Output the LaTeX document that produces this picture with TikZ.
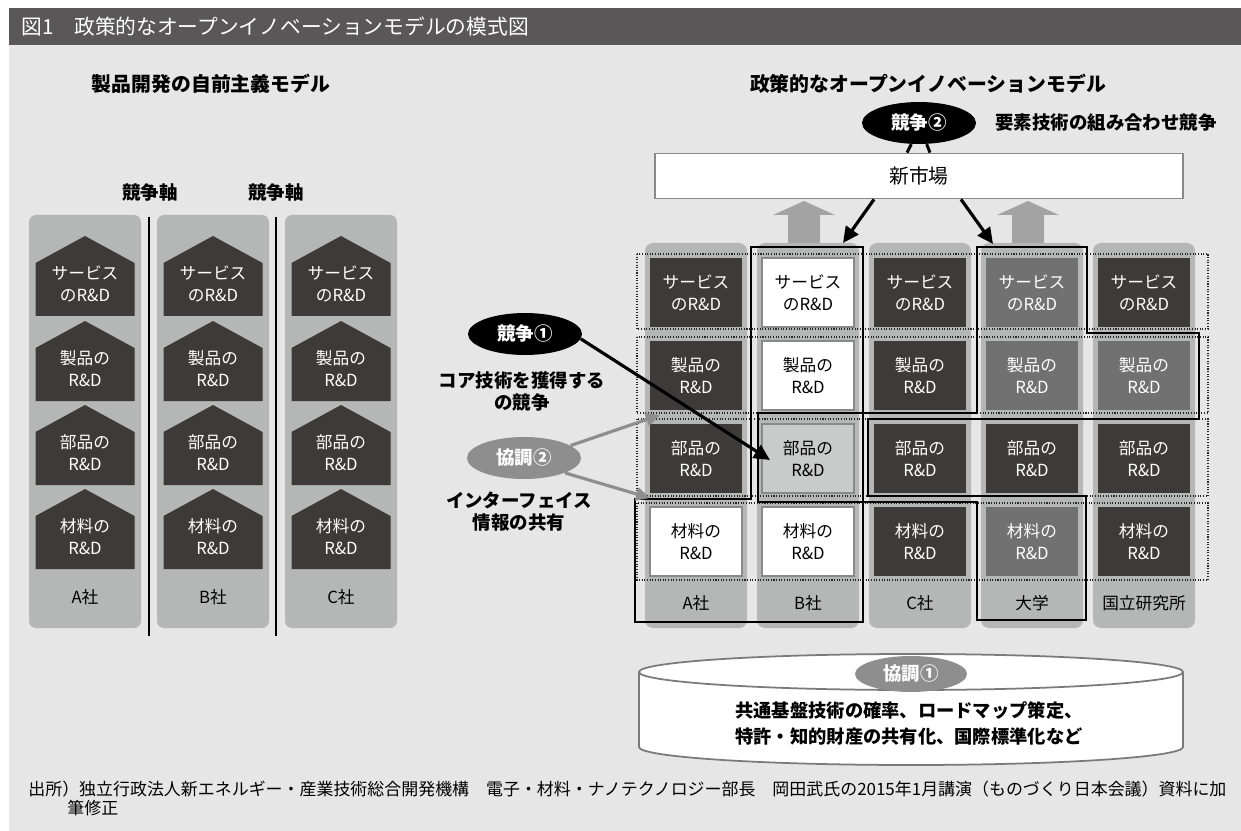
\documentclass[tikz,border=0pt]{standalone}
\usepackage{fontspec}
\setmainfont{Noto Sans CJK JP}
\usetikzlibrary{arrows.meta,shapes.geometric}

\definecolor{bggray}{HTML}{E6E6E6}
\definecolor{headgray}{HTML}{595757}
\definecolor{colgray}{HTML}{B5B6B6}
\definecolor{darkbox}{HTML}{3E3A39}
\definecolor{midbox}{HTML}{727171}
\definecolor{lightbox}{HTML}{C9CACA}
\definecolor{edgegray}{HTML}{898989}
\definecolor{coopgray}{HTML}{8E8E8E}
\definecolor{upgray}{HTML}{A3A3A3}
\definecolor{cylgray}{HTML}{7A7A7A}

\newcommand{\boxfont}{\fontsize{9.5pt}{12.5pt}\selectfont}
\newcommand{\labfont}{\fontsize{10.5pt}{13pt}\selectfont}
\newcommand{\ttlfont}{\fontsize{11.3pt}{14pt}\selectfont}
\newcommand{\headfont}{\fontsize{11.8pt}{14pt}\selectfont}
\newcommand{\basefont}{\fontsize{10.4pt}{15.3pt}\selectfont}
\newcommand{\srcfont}{\fontsize{9.65pt}{11pt}\selectfont}

\begin{document}
\begin{tikzpicture}[x=0.02cm, y=-0.02cm,
  every node/.style={inner sep=0pt, align=center},
  house/.pic={\fill[darkbox] (-49.5,27) -- (0,0) -- (49.5,27) -- (49.5,80) -- (-49.5,80) -- cycle;},
  htext/.style={text=white, font=\boxfont},
  rbox/.style={minimum width=1.84cm, minimum height=1.38cm, font=\boxfont},
  dbox/.style={rbox, fill=darkbox, text=white},
  mbox/.style={rbox, fill=midbox, text=white},
  wbox/.style={rbox, fill=white, draw=edgegray, line width=1.2pt},
  lbox/.style={rbox, fill=lightbox, draw=edgegray, line width=1.2pt},
  lab/.style={font=\labfont},
  oval/.style={ellipse, minimum width=2.28cm, minimum height=0.84cm, text=white, font=\labfont\bfseries},
  rowband/.style={dash pattern=on 0.6pt off 0.9pt, line width=0.6pt, black!85},
  outline/.style={line width=1.65pt, black},
  blackarrow/.style={-{Triangle[length=0.32cm,width=0.3cm]}, line width=1.8pt},
  grayarrow/.style={-{Triangle[length=0.28cm,width=0.26cm]}, line width=1.8pt, coopgray}]
\useasboundingbox (0,0) rectangle (1241,831);
% background and heading
\fill[white] (0,0) rectangle (1241,831);
\fill[bggray] (9,8) rectangle (1241,831);
\fill[headgray] (9,8) rectangle (1241,45);
\node[anchor=west, text=white, font=\headfont] (fig) at (21,27) {図1　政策的なオープンイノベーションモデルの模式図};

% left model
\node[font=\ttlfont\bfseries] (ltitle) at (211,84) {製品開発の自前主義モデル};
\node[lab, font=\labfont\bfseries] (axis1) at (150,193) {競争軸};
\node[lab, font=\labfont\bfseries] (axis2) at (276,193) {競争軸};

\fill[colgray, rounded corners=0.14cm] (29,215) rectangle (141,628);
\fill[colgray, rounded corners=0.14cm] (157,215) rectangle (269,628);
\fill[colgray, rounded corners=0.14cm] (285,215) rectangle (397,628);
\draw[line width=1.3pt] (149,217) -- (149,636);
\draw[line width=1.3pt] (276,217) -- (276,636);

\pic at (85,236) {house};  \node[htext] (ha1) at (85,284) {サービス\\のR\&D};
\pic at (85,321) {house};  \node[htext] (ha2) at (85,369) {製品の\\R\&D};
\pic at (85,405) {house};  \node[htext] (ha3) at (85,453) {部品の\\R\&D};
\pic at (85,489) {house};  \node[htext] (ha4) at (85,537) {材料の\\R\&D};
\pic at (213,236) {house}; \node[htext] (hb1) at (213,284) {サービス\\のR\&D};
\pic at (213,321) {house}; \node[htext] (hb2) at (213,369) {製品の\\R\&D};
\pic at (213,405) {house}; \node[htext] (hb3) at (213,453) {部品の\\R\&D};
\pic at (213,489) {house}; \node[htext] (hb4) at (213,537) {材料の\\R\&D};
\pic at (341,236) {house}; \node[htext] (hc1) at (341,284) {サービス\\のR\&D};
\pic at (341,321) {house}; \node[htext] (hc2) at (341,369) {製品の\\R\&D};
\pic at (341,405) {house}; \node[htext] (hc3) at (341,453) {部品の\\R\&D};
\pic at (341,489) {house}; \node[htext] (hc4) at (341,537) {材料の\\R\&D};
\node[font=\boxfont] (la) at (85,597) {A社};
\node[font=\boxfont] (lb) at (213,597) {B社};
\node[font=\boxfont] (lc) at (341,597) {C社};

% right model
\node[font=\ttlfont\bfseries] (rtitle) at (928,84) {政策的なオープンイノベーションモデル};
\node[oval, fill=black] (comp2) at (919,123) {競争②};
\node[anchor=west, font=\labfont\bfseries] (combo) at (995,123) {要素技術の組み合わせ競争};
\node[draw=edgegray, fill=white, line width=1pt, minimum width=10.56cm, minimum height=0.9cm, font=\ttlfont] (market) at (919,176) {新市場};
\draw[line width=1.7pt] ([xshift=-0.24cm]market.north) -- (comp2.250);
\draw[line width=1.7pt] ([xshift=0.22cm]market.north) -- (comp2.290);

\fill[upgray] (788,245) -- (788,215) -- (773,215) -- (804,201) -- (835,215) -- (820,215) -- (820,245) -- cycle;
\fill[upgray] (1012,245) -- (1012,215) -- (997,215) -- (1028,201) -- (1059,215) -- (1044,215) -- (1044,245) -- cycle;

\fill[colgray, rounded corners=0.16cm] (645,243) rectangle (747,628);
\fill[colgray, rounded corners=0.16cm] (757,243) rectangle (859,628);
\fill[colgray, rounded corners=0.16cm] (869,243) rectangle (971,628);
\fill[colgray, rounded corners=0.16cm] (981,243) rectangle (1083,628);
\fill[colgray, rounded corners=0.16cm] (1093,243) rectangle (1195,628);

\draw[rowband] (637,254) rectangle (1208,329);
\draw[rowband] (637,337) rectangle (1208,413);
\draw[rowband] (637,419) rectangle (1208,496);
\draw[rowband] (637,503) rectangle (1208,580);

\node[dbox] (a1) at (696,292.5) {サービス\\のR\&D};
\node[dbox] (a2) at (696,375.5) {製品の\\R\&D};
\node[dbox] (a3) at (696,458.5) {部品の\\R\&D};
\node[wbox] (a4) at (696,541.5) {材料の\\R\&D};
\node[wbox] (b1) at (808,292.5) {サービス\\のR\&D};
\node[wbox] (b2) at (808,375.5) {製品の\\R\&D};
\node[lbox] (b3) at (808,458.5) {部品の\\R\&D};
\node[wbox] (b4) at (808,541.5) {材料の\\R\&D};
\node[dbox] (c1) at (920,292.5) {サービス\\のR\&D};
\node[dbox] (c2) at (920,375.5) {製品の\\R\&D};
\node[dbox] (c3) at (920,458.5) {部品の\\R\&D};
\node[dbox] (c4) at (920,541.5) {材料の\\R\&D};
\node[mbox] (u1) at (1032,292.5) {サービス\\のR\&D};
\node[mbox] (u2) at (1032,375.5) {製品の\\R\&D};
\node[dbox] (u3) at (1032,458.5) {部品の\\R\&D};
\node[mbox] (u4) at (1032,541.5) {材料の\\R\&D};
\node[dbox] (n1) at (1144,292.5) {サービス\\のR\&D};
\node[mbox] (n2) at (1144,375.5) {製品の\\R\&D};
\node[dbox] (n3) at (1144,458.5) {部品の\\R\&D};
\node[dbox] (n4) at (1144,541.5) {材料の\\R\&D};
\node[font=\boxfont] (ra) at (696,603) {A社};
\node[font=\boxfont] (rb) at (808,603) {B社};
\node[font=\boxfont] (rc) at (920,603) {C社};
\node[font=\boxfont] (ru) at (1032,603) {大学};
\node[font=\boxfont] (rn) at (1144,603) {国立研究所};

\draw[outline] (751,247) -- (863,247) -- (863,622) -- (635,622) -- (635,499) -- (751,499) -- cycle;
\draw[outline] (758,413) -- (977,413) -- (977,247) -- (1087,247) -- (1087,333) -- (1199,333) -- (1199,419)
  -- (868,419) -- (868,496) -- (1086,496) -- (1086,620) -- (977,620) -- (977,502) -- (758,502) -- cycle;

\coordinate (tipB) at (843,243);
\coordinate (tipU) at (993,244);
\draw[blackarrow] ([xshift=-0.9cm]market.south) -- (tipB);
\draw[blackarrow] ([xshift=0.84cm]market.south) -- (tipU);

% competition and cooperation notes
\node[oval, fill=black] (comp1) at (525,334) {競争①};
\node[lab, font=\labfont\bfseries] (core) at (522,391.5) {コア技術を獲得する\\の競争};
\node[oval, fill=coopgray] (coop2) at (524,458) {協調②};
\node[lab, font=\labfont\bfseries] (iface) at (519,511.5) {インターフェイス\\情報の共有};
\coordinate (coreTip) at (770,460);
\coordinate (ifTop) at (660,415);
\coordinate (ifBot) at (650,498);
\draw[blackarrow] (comp1.-5) -- (coreTip);
\draw[grayarrow] (coop2.15) -- (ifTop);
\draw[grayarrow] (coop2.-20) -- (ifBot);

% common base
\filldraw[fill=white, draw=cylgray, line width=1pt] (639,672) -- (639,747) arc[start angle=180, end angle=0, x radius=272, y radius=18] -- (1183,672);
\filldraw[fill=white, draw=cylgray, line width=1pt] (911,672) ellipse[x radius=272, y radius=18];
\node[oval, fill=coopgray, minimum width=2.24cm, minimum height=0.72cm] (coop1) at (911,674) {協調①};
\node[font=\basefont\bfseries] (base) at (909,723.5) {共通基盤技術の確率、ロードマップ策定、\\特許・知的財産の共有化、国際標準化など};

% source
\node[anchor=west, font=\srcfont] (src1) at (28,789) {出所）独立行政法人新エネルギー・産業技術総合開発機構　電子・材料・ナノテクノロジー部長　岡田武氏の2015年1月講演（ものづくり日本会議）資料に加};
\node[anchor=west, font=\srcfont] (src2) at (67,808) {筆修正};
\end{tikzpicture}
\end{document}
